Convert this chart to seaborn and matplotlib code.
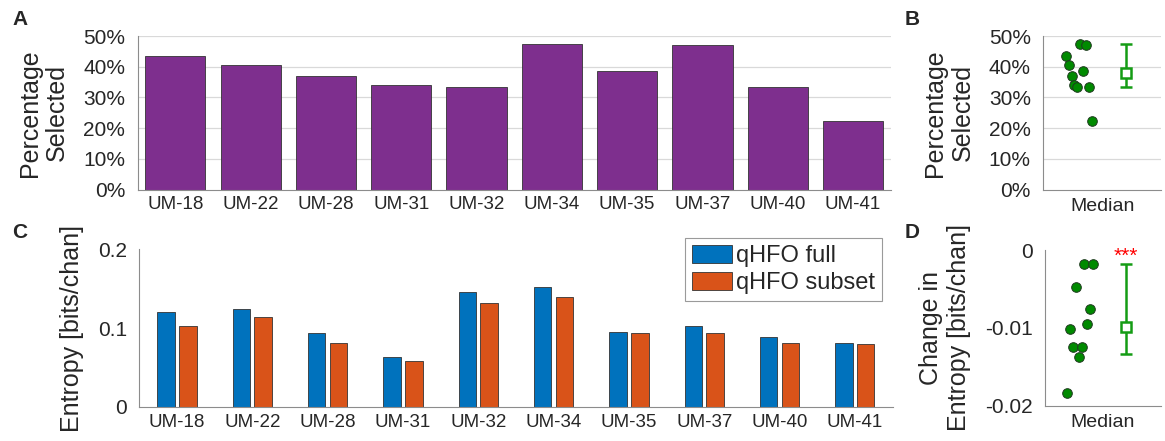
import numpy as np
import pandas as pd
import matplotlib
matplotlib.use("Agg")
import matplotlib.pyplot as plt
import seaborn as sns
from matplotlib.ticker import FuncFormatter

# values
patients = ["UM-18", "UM-22", "UM-28", "UM-31", "UM-32",
            "UM-34", "UM-35", "UM-37", "UM-40", "UM-41"]
pct_selected = [43.5, 40.5, 37.1, 33.9, 33.5, 47.5, 38.6, 47.2, 33.3, 22.4]
pct_median = 37.9
pct_low = 33.4
pct_high = 47.3

entropy_full = [0.1203, 0.1241, 0.0936, 0.0631, 0.1458,
                0.1521, 0.0949, 0.1030, 0.0886, 0.0814]
entropy_subset = [0.1021, 0.1140, 0.0814, 0.0580, 0.1318,
                  0.1398, 0.0932, 0.0932, 0.0809, 0.0792]
entropy_change = [-0.0184, -0.0102, -0.0125, -0.0047, -0.0138,
                  -0.0125, -0.0018, -0.0095, -0.0076, -0.0018]
change_median = -0.0099
change_low = -0.0133
change_high = -0.0018

set_names = ["qHFO full", "qHFO subset"]

sns.set_style("white")
plt.rcParams["font.family"] = ["Liberation Sans", "DejaVu Sans"]
plt.rcParams["axes.unicode_minus"] = False

W, H = 1165, 441
fig = plt.figure(figsize=(W / 100, H / 100), dpi=100)


def box(l, r, t, b):
    return [l / W, 1 - b / H, (r - l) / W, (b - t) / H]


axA = fig.add_axes(box(137.7, 890.7, 36, 189.5))
axB = fig.add_axes(box(1043.3, 1161, 36, 189.5))
axC = fig.add_axes(box(139.3, 892.5, 249.3, 406.7))
axD = fig.add_axes(box(1045, 1161, 250, 405.7))

spine_col = "#8c8c8c"
grid_col = "#d9d9d9"
purple = "#7E2F8E"
blue = "#0072BD"
orange = "#D95319"
dot_green = "#008a00"
bar_green = "#149c14"

for ax in [axA, axB, axC, axD]:
    for s in ["top", "right"]:
        ax.spines[s].set_visible(False)
    for s in ["left", "bottom"]:
        ax.spines[s].set_color(spine_col)
        ax.spines[s].set_linewidth(0.8)

pct_fmt = FuncFormatter(lambda v, p: f"{v:.0f}%")
num_fmt = FuncFormatter(lambda v, p: f"{v:g}")

# A - percentage selected per patient
sns.barplot(x=patients, y=pct_selected, color=purple, saturation=1,
            width=0.8, edgecolor="#333333", linewidth=0.6, ax=axA)
axA.set_ylim(0, 50)
axA.set_yticks([0, 10, 20, 30, 40, 50])
for v in [10, 20, 30, 40, 50]:
    axA.axhline(v, color=grid_col, lw=0.9, zorder=0)
axA.yaxis.set_major_formatter(pct_fmt)
axA.tick_params(axis="x", direction="in", length=5, color="#555555",
                labelsize=13.5, pad=5)
axA.tick_params(axis="y", direction="in", length=0, labelsize=15, pad=9)
axA.set_ylabel("Percentage\nSelected", fontsize=18, labelpad=10)

# B - spread of percentages with median
xpos = np.linspace(0.69, 0.915, len(patients))
sns.scatterplot(x=xpos, y=pct_selected, color=dot_green, edgecolor="#1f3a1f",
                linewidth=0.7, s=48, zorder=3, ax=axB)
axB.errorbar([1.2], [pct_median],
             yerr=[[pct_median - pct_low], [pct_high - pct_median]],
             fmt="s", color=bar_green, mfc="white", mec=bar_green, ms=7.5,
             mew=1.8, elinewidth=1.8, capsize=4.5, capthick=1.8, zorder=3)
axB.set_xlim(0.5, 1.5)
axB.set_ylim(0, 50)
axB.set_yticks([0, 10, 20, 30, 40, 50])
for v in [10, 20, 30, 40, 50]:
    axB.axhline(v, color=grid_col, lw=0.9, zorder=0)
axB.yaxis.set_major_formatter(pct_fmt)
axB.set_xticks([1])
axB.set_xticklabels(["Median"])
axB.tick_params(axis="x", length=0, labelsize=14, pad=6)
axB.tick_params(axis="y", direction="in", length=0, labelsize=15, pad=9)
axB.set_ylabel("Percentage\nSelected", fontsize=18, labelpad=10)

# C - entropy full vs subset
df = pd.DataFrame({
    "patient": patients * 2,
    "entropy": entropy_full + entropy_subset,
    "set": [set_names[0]] * len(patients) + [set_names[1]] * len(patients),
})
sns.barplot(data=df, x="patient", y="entropy", hue="set",
            palette=[blue, orange], saturation=1, width=0.58, gap=0.2,
            edgecolor="#333333", linewidth=0.6, ax=axC)
axC.set_ylim(0, 0.2)
axC.set_yticks([0, 0.1, 0.2])
axC.yaxis.set_major_formatter(num_fmt)
axC.set_xlabel("")
axC.tick_params(axis="x", direction="in", length=5, color="#b5b5b5",
                labelsize=13.5, pad=5)
axC.tick_params(axis="y", direction="in", length=5, color=spine_col,
                labelsize=15, pad=9)
axC.set_ylabel("Entropy [bits/chan]", fontsize=18, labelpad=10)
h, l = axC.get_legend_handles_labels()
axC.legend(h, l, loc="upper right", bbox_to_anchor=(882 / W, 1 - 238 / H),
           bbox_transform=fig.transFigure, fontsize=17, frameon=True,
           fancybox=False, framealpha=1, edgecolor="#9a9a9a",
           handlelength=1.7, handleheight=0.8, handletextpad=0.15,
           labelspacing=0.2, borderpad=0.3, borderaxespad=0)
axC.get_legend().get_frame().set_linewidth(0.8)

# D - change in entropy with median
sns.scatterplot(x=xpos, y=entropy_change, color=dot_green, edgecolor="#1f3a1f",
                linewidth=0.7, s=48, zorder=3, ax=axD)
axD.errorbar([1.2], [change_median],
             yerr=[[change_median - change_low], [change_high - change_median]],
             fmt="s", color=bar_green, mfc="white", mec=bar_green, ms=7.5,
             mew=1.8, elinewidth=1.8, capsize=4.5, capthick=1.8, zorder=3)
axD.annotate("***", xy=(1.2, 0), xytext=(0, -8.7), textcoords="offset points",
             ha="center", va="baseline", color="red", fontsize=15,
             annotation_clip=False)
axD.set_xlim(0.5, 1.5)
axD.set_ylim(-0.02, 0)
axD.set_yticks([-0.02, -0.01, 0])
axD.yaxis.set_major_formatter(num_fmt)
axD.set_xticks([1])
axD.set_xticklabels(["Median"])
axD.tick_params(axis="x", length=0, labelsize=14, pad=6)
axD.tick_params(axis="y", direction="in", length=5, color=spine_col,
                labelsize=15, pad=9)
axD.set_ylabel("Change in\nEntropy [bits/chan]", fontsize=18, labelpad=10)

# panel letters
for letter, x, y in [("A", 12, 25), ("B", 905, 25), ("C", 12, 238), ("D", 905, 238)]:
    fig.text(x / W, 1 - y / H, letter, fontsize=15, fontweight="bold",
             va="baseline", ha="left")

fig.savefig("out.png", dpi=100)
